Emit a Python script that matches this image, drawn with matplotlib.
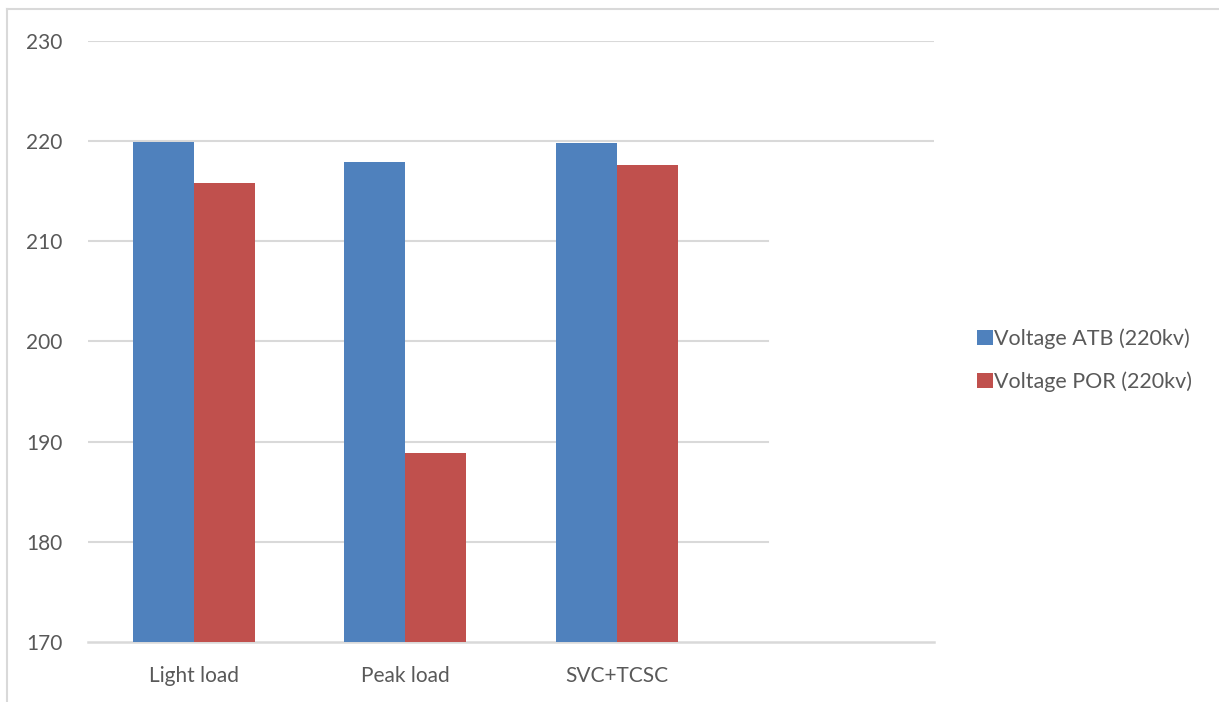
import numpy as np
import matplotlib.pyplot as plt
from matplotlib.lines import Line2D

plt.rcParams['font.family'] = ['Lato', 'DejaVu Sans']

# Bus voltages for each operating case
cases = ['Light load', 'Peak load', 'SVC+TCSC']
voltage_atb = [219.9, 217.9, 219.8]
voltage_por = [215.8, 188.9, 217.6]
series_names = ['Voltage ATB (220kv)', 'Voltage POR (220kv)']
y_ticks = [170, 180, 190, 200, 210, 220, 230]

blue = '#4F81BD'
red = '#C0504D'
grid_gray = '#D9D9D9'
text_gray = '#595959'

fig = plt.figure(figsize=(12.19, 7.02), dpi=100)
ax = fig.add_axes([0.0722, 0.0855, 0.694, 0.8561])

x = np.arange(len(cases))
w = 0.288
ax.bar(x - w / 2, np.array(voltage_atb) - 170, w, bottom=170, color=blue,
       label=series_names[0], zorder=3)
ax.bar(x + w / 2, np.array(voltage_por) - 170, w, bottom=170, color=red,
       label=series_names[1], zorder=3)

# one empty slot on the right, like the original category axis
ax.set_xlim(-0.5, 3.5)
ax.set_ylim(170, 230)

# gridlines stop where the legend area begins, except the top two
for t in y_ticks[1:]:
    xmax = 1.0 if t >= 220 else 0.804
    ax.axhline(t, xmin=0, xmax=xmax, color=grid_gray, lw=1.5, zorder=1)

for s in ['top', 'right', 'left']:
    ax.spines[s].set_visible(False)
ax.spines['bottom'].set_color(grid_gray)
ax.spines['bottom'].set_linewidth(1.8)

ax.set_yticks(y_ticks)
ax.set_xticks(x)
ax.set_xticklabels(cases)
ax.tick_params(axis='both', length=0, labelsize=15, labelcolor=text_gray)
ax.tick_params(axis='y', pad=18.5)
ax.tick_params(axis='x', pad=17)

leg = fig.legend(loc='center left', bbox_to_anchor=(0.8015, 0.4869),
                 frameon=False, fontsize=15.5, handlelength=0.72,
                 handleheight=0.72, handletextpad=0.05, labelspacing=1.05,
                 borderpad=0, borderaxespad=0)
for txt in leg.get_texts():
    txt.set_color(text_gray)

# outer chart frame (runs off the right and bottom edges)
fig.add_artist(Line2D([0.0057, 1.0], [0.987, 0.987], color=grid_gray, lw=1.5))
fig.add_artist(Line2D([0.0057, 0.0057], [0.0, 0.987], color=grid_gray, lw=1.5))

fig.savefig('out.png', dpi=100)
